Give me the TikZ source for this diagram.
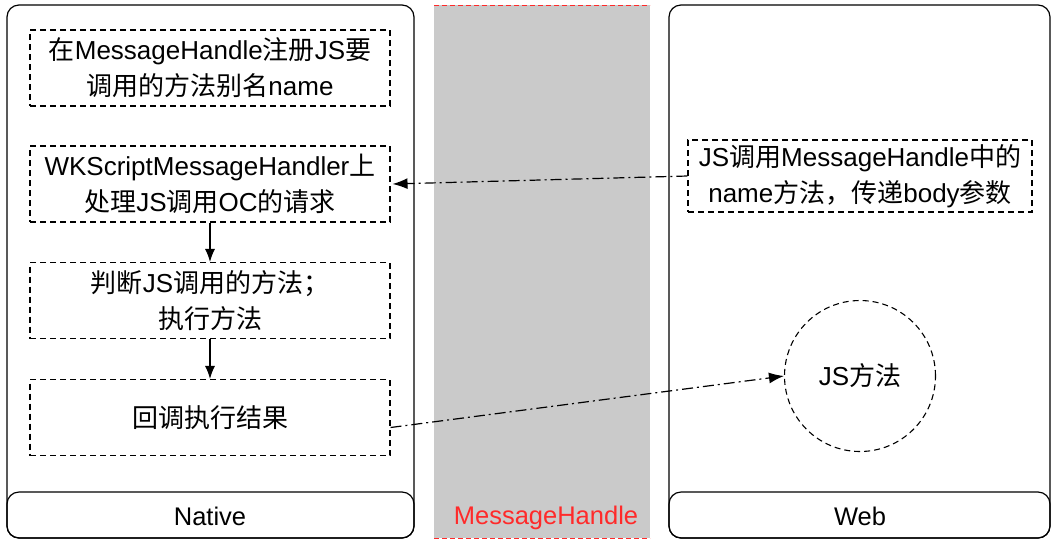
\documentclass[tikz,border=0pt]{standalone}
\usepackage{fontspec}
\setmainfont{Liberation Sans}
\newfontfamily\cjk{Noto Sans CJK SC}
\newcommand\zh[1]{{\cjk #1}}
\usetikzlibrary{arrows.meta}
\definecolor{colgray}{HTML}{CACACA}
\definecolor{lblred}{HTML}{FF2A2A}
\tikzset{
  lane/.style={draw=black, line width=1.2pt, rounded corners=12pt},
  stepbox/.style={draw=black, line width=1.1pt, dash pattern=on 6pt off 4pt, minimum width=360pt, minimum height=76pt, align=center, font=\fontsize{26}{36}\selectfont, inner sep=0pt},
  flow/.style={draw=black, line width=1.2pt, -{Latex[length=13pt,width=10pt]}},
  call/.style={draw=black, line width=1.2pt, dash pattern=on 11pt off 4pt on 2pt off 4pt, -{Latex[length=15pt,width=11pt]}},
  lbl/.style={font=\fontsize{25.5}{28}\selectfont}
}
\begin{document}
\begin{tikzpicture}[x=1pt,y=-1pt]
\useasboundingbox (0,0) rectangle (1057,542);
% middle column
\fill[colgray] (434,5) rectangle (650,538);
\draw[lblred, line width=1pt, dash pattern=on 5pt off 3pt] (434,5) -- (650,5);
\draw[lblred, line width=1pt, dash pattern=on 5pt off 3pt] (434,538) -- (650,538);
\node[lbl, text=lblred] (mh) at (546,518) {MessageHandle};
% lanes
\draw[lane] (7,5) rectangle (414,538);
\draw[lane] (7,492) rectangle (414,538);
\node[lbl] (native) at (210,516) {Native};
\draw[lane] (669,5) rectangle (1050,538);
\draw[lane] (669,492) rectangle (1050,538);
\node[lbl] (web) at (860,516) {Web};
% native steps
\node[stepbox] (b1) at (210,68) {\zh{在}MessageHandle\zh{注册}JS\zh{要}\\\zh{调用的方法别名}name};
\node[stepbox] (b2) at (210,184) {WKScriptMessageHandler\zh{上}\\\zh{处理}JS\zh{调用}OC\zh{的请求}};
\node[stepbox] (b3) at (210,300.5) {\zh{判断}JS\zh{调用的方法；}\\\zh{执行方法}};
\node[stepbox] (b4) at (210,417.5) {\zh{回调执行结果}};
% web
\node[stepbox, minimum width=344pt, minimum height=72pt] (w1) at (860,176) {JS\zh{调用}MessageHandle\zh{中的}\\name\zh{方法，传递}body\zh{参数}};
\node[draw=black, line width=1.1pt, dash pattern=on 6pt off 4pt, circle, minimum size=151pt, inner sep=0pt, font=\fontsize{26}{28}\selectfont] (js) at (860,376) {JS\zh{方法}};
% connectors
\draw[flow] (b2.south) -- (b3.north);
\draw[flow] (b3.south) -- (b4.north);
\draw[call] (w1.west) -- ([xshift=2pt]b2.east);
\draw[call] ([yshift=-10pt]b4.east) -- (js.west);
\end{tikzpicture}
\end{document}
